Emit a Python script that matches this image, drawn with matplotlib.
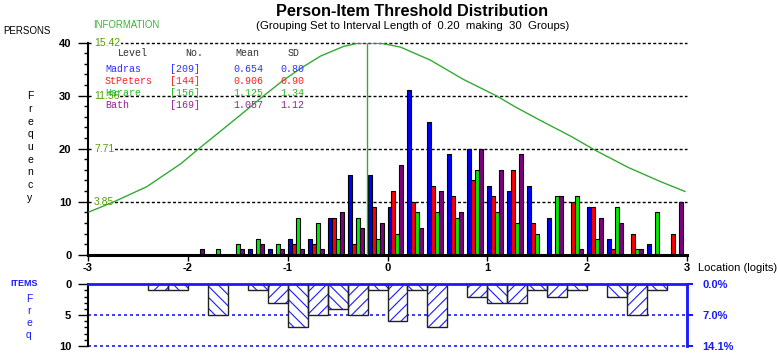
import matplotlib
matplotlib.use('Agg')
import matplotlib.pyplot as plt
import numpy as np

plt.rcParams['font.family'] = ['Liberation Sans', 'DejaVu Sans']
plt.rcParams['hatch.linewidth'] = 0.8

# ---------------- data ----------------
x_min, x_max = -3.0, 3.0
n_groups = 30
interval = 0.20

series_names = ['Madras', 'StPeters', 'Harare', 'Bath']
series_n = ['[209]', '[144]', '[156]', '[169]']
series_mean = ['0.654', '0.906', '1.125', '1.057']
series_sd = ['0.80', '0.90', '1.34', '1.12']

madras   = [0, 0, 0, 0, 0, 0, 0, 0, 1, 1, 3, 3, 7, 15, 15, 9, 31, 25, 19, 20, 13, 12, 13, 7, 0, 9, 3, 0, 2, 0]
stpeters = [0, 0, 0, 0, 0, 0, 0, 0, 0, 0, 2, 2, 7, 2, 9, 12, 10, 13, 11, 14, 11, 16, 6, 0, 10, 9, 1, 4, 0, 4]
harare   = [0, 0, 0, 0, 0, 0, 1, 2, 3, 2, 7, 6, 3, 7, 3, 4, 8, 8, 7, 16, 8, 6, 4, 11, 11, 3, 9, 1, 8, 0]
bath     = [0, 0, 0, 0, 0, 1, 0, 1, 2, 1, 1, 1, 8, 5, 6, 17, 5, 12, 8, 20, 16, 19, 0, 11, 1, 7, 6, 1, 0, 10]

items = [0, 0, 0, 1, 1, 0, 5, 0, 1, 3, 7, 5, 4, 5, 1, 6, 1, 7, 0, 2, 3, 3, 1, 2, 1, 0, 2, 5, 1, 0]

info_x = [-2.99, -2.74, -2.41, -2.07, -1.89, -1.67, -1.45, -1.24, -1.05, -0.87, -0.67, -0.44, -0.30,
          -0.21, -0.05, 0.13, 0.43, 0.76, 1.09, 1.28, 1.51, 1.84, 2.08, 2.41, 2.74, 2.98]
info_y = [3.11, 3.85, 4.95, 6.62, 7.71, 9.00, 10.30, 11.56, 12.65, 13.55, 14.45, 15.15, 15.38,
          15.42, 15.36, 15.10, 14.15, 12.75, 11.56, 10.75, 9.85, 8.60, 7.60, 6.35, 5.30, 4.60]

person_ticks = [0, 10, 20, 30, 40]
info_ticks = [3.85, 7.71, 11.56, 15.42]
x_ticks = [-3, -2, -1, 0, 1, 2, 3]
item_ticks = [0, 5, 10]
item_pct = ['0.0%', '7.0%', '14.1%']

# ---------------- styles ----------------
bar_colors = ['#0000ff', '#ff0000', '#00ee00', '#800080']
text_colors = ['#3030ff', '#ff2020', '#22bb22', '#992299']
info_color = '#33aa33'
info_text = '#55a000'
item_blue = '#1a1aff'

W, H = 778, 353
fig = plt.figure(figsize=(W / 100, H / 100), dpi=100)


def fx(px):
    return px / W


def fy(py):
    return 1 - py / H


# ---------------- top panel ----------------
ax = fig.add_axes([fx(88), fy(254.7), (687 - 88) / W, (254.7 - 42.7) / H])
ax.set_xlim(x_min, x_max)
ax.set_ylim(0, 40)

group_starts = x_min + interval * np.arange(n_groups)
bar_w = interval / 5
for k, (vals, col) in enumerate(zip([madras, stpeters, harare, bath], bar_colors)):
    v = np.asarray(vals)
    m = v > 0
    ax.bar(group_starts[m] + k * bar_w, v[m], width=bar_w, align='edge',
           color=col, edgecolor='black', linewidth=0.8, zorder=3)

for yv in person_ticks[1:]:
    ax.axhline(yv, color='black', lw=1.0, dashes=(2.2, 1.6), zorder=1, clip_on=False)

for s in ['top', 'right']:
    ax.spines[s].set_visible(False)
ax.spines['left'].set_linewidth(1.5)
ax.spines['bottom'].set_linewidth(2.2)
ax.spines['bottom'].set_zorder(5)
ax.set_yticks(person_ticks)
ax.set_yticks(np.arange(0, 41, 2), minor=True)
ax.tick_params(axis='y', which='major', length=7, width=1, pad=5, labelsize=8)
ax.tick_params(axis='y', which='minor', length=3, width=1)
ax.set_xticks(x_ticks)
ax.set_xticklabels([str(t) for t in x_ticks])
ax.tick_params(axis='x', which='major', length=4, width=1, pad=2, labelsize=8)
for lab in ax.get_yticklabels() + ax.get_xticklabels():
    lab.set_fontweight('bold')

axi = ax.twinx()
axi.set_ylim(0, max(info_y))
axi.set_xlim(x_min, x_max)
axi.set_axis_off()
for v in info_ticks:
    axi.text(x_min + 0.06, v, f'{v:.2f}', color=info_text, fontsize=7.5, va='center', ha='left',
             bbox=dict(facecolor='white', edgecolor='none', pad=0.6), zorder=2)
axi.plot(info_x, info_y, color=info_color, lw=1.0, zorder=4)
peak_i = int(np.argmax(info_y))
axi.vlines(info_x[peak_i], 0, info_y[peak_i], color=info_color, lw=1.0, zorder=4)

# legend table
mono = 'Liberation Mono'
fig.text(fx(118), fy(53), 'Level', family=mono, fontsize=7.2, color='#333333', va='center')
fig.text(fx(185), fy(53), 'No.', family=mono, fontsize=7.2, color='#333333', va='center')
fig.text(fx(235), fy(53), 'Mean', family=mono, fontsize=7.2, color='#333333', va='center')
fig.text(fx(288), fy(53), 'SD', family=mono, fontsize=7.2, color='#333333', va='center')
for i, (nm, nn, mn, sd) in enumerate(zip(series_names, series_n, series_mean, series_sd)):
    yy = 68.5 + i * 12.2
    c = text_colors[i]
    fig.text(fx(105), fy(yy), nm, family=mono, fontsize=7.2, color=c, va='center')
    fig.text(fx(170), fy(yy), nn, family=mono, fontsize=7.2, color=c, va='center')
    fig.text(fx(233), fy(yy), mn, family=mono, fontsize=7.2, color=c, va='center')
    fig.text(fx(280), fy(yy), sd, family=mono, fontsize=7.2, color=c, va='center')

# titles and labels
fig.text(fx(412.5), fy(12), 'Person-Item Threshold Distribution', ha='center', va='center',
         fontsize=11.7, fontweight='bold')
fig.text(fx(412.5), fy(26), '(Grouping Set to Interval Length of  0.20  making  30  Groups)',
         ha='center', va='center', fontsize=8.2)
fig.text(fx(3), fy(31), 'PERSONS', fontsize=7, va='center', ha='left')
fig.text(fx(93), fy(25), 'INFORMATION', fontsize=6.9, va='center', ha='left', color='#40b040')
fig.text(fx(30), fy(147), '\n'.join('Frequency'), fontsize=7.5, ha='center', va='center',
         linespacing=1.33)
fig.text(fx(698), fy(268), 'Location (logits)', fontsize=8, ha='left', va='center')

# ---------------- bottom panel ----------------
axb = fig.add_axes([fx(88), fy(346), (687 - 88) / W, (346 - 284.3) / H])
axb.set_xlim(x_min, x_max)
axb.set_ylim(10, 0)
it = np.asarray(items)
for i in range(n_groups):
    if it[i] <= 0:
        continue
    hatch = '\\\\\\' if i % 2 == 0 else '///'
    axb.bar(group_starts[i], it[i], width=interval, align='edge', color='white',
            edgecolor=item_blue, hatch=hatch, linewidth=0, zorder=2)
    axb.bar(group_starts[i], it[i], width=interval, align='edge', fill=False,
            edgecolor='#222222', linewidth=1.0, zorder=3)

for yv in item_ticks[1:]:
    axb.axhline(yv, color=item_blue, lw=1.2, dashes=(1.8, 1.8), zorder=1, clip_on=False)

axb.spines['bottom'].set_visible(False)
axb.spines['top'].set_color(item_blue)
axb.spines['top'].set_linewidth(2)
axb.spines['top'].set_zorder(5)
axb.spines['left'].set_linewidth(1.5)
axb.spines['right'].set_color(item_blue)
axb.spines['right'].set_linewidth(1.8)
axb.set_xticks([])
axb.set_yticks(item_ticks)
axb.set_yticks(np.arange(0, 11, 1), minor=True)
axb.tick_params(axis='y', which='major', length=7, width=1, pad=5, labelsize=8)
axb.tick_params(axis='y', which='minor', length=3, width=1)
for lab in axb.get_yticklabels():
    lab.set_fontweight('bold')

axr = axb.twinx()
axr.set_ylim(10, 0)
axr.set_xlim(x_min, x_max)
for s in ['top', 'bottom', 'left']:
    axr.spines[s].set_visible(False)
axr.spines['right'].set_color(item_blue)
axr.spines['right'].set_linewidth(1.8)
axr.set_yticks(item_ticks)
axr.set_yticklabels(item_pct)
axr.tick_params(axis='y', which='major', length=4, width=1.5, color=item_blue,
                labelcolor=item_blue, pad=7, labelsize=8)
for lab in axr.get_yticklabels():
    lab.set_fontweight('bold')

fig.text(fx(10), fy(283.5), 'ITEMS', fontsize=6.5, fontweight='bold', color=item_blue,
         va='center', ha='left')
fig.text(fx(29), fy(316.5), '\n'.join('Freq'), fontsize=7.5, ha='center', va='center',
         color=item_blue, linespacing=1.25)

fig.savefig('out.png', dpi=100)
